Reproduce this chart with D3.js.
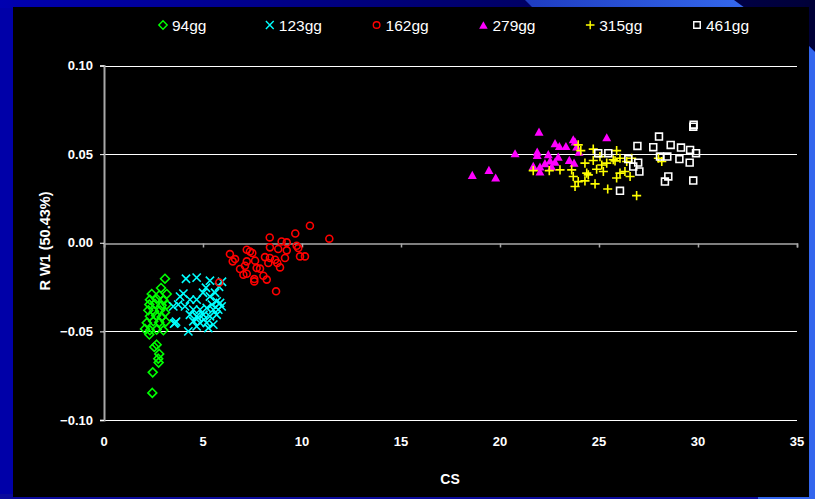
<!DOCTYPE html>
<html>
<head>
<meta charset="utf-8">
<script src="https://cdn.jsdelivr.net/npm/d3@7/dist/d3.min.js"></script>
<style>
  html, body { margin: 0; padding: 0; background: #0000a8; }
  svg { display: block; }
  text { font-family: "Liberation Sans", Arial, sans-serif; fill: #ffffff; }
</style>
</head>
<body>
<svg id="chart" width="815" height="499"></svg>
<script>
// Centroid size (CS) against the first relative warp score (RW1), one series per age group.
const groups = ["94gg", "123gg", "162gg", "279gg", "315gg", "461gg"];

const pts94 = [
  [3.08,-0.0203],[2.88,-0.0255],[2.41,-0.0289],[2.79,-0.0297],[3.17,-0.0289],[2.32,-0.0321],
  [2.66,-0.0317],[3.00,-0.0325],[2.29,-0.0349],[2.58,-0.0345],[2.91,-0.0353],[3.17,-0.0349],
  [2.24,-0.0381],[2.53,-0.0387],[2.83,-0.0381],[3.08,-0.0393],[2.32,-0.0415],[2.63,-0.0411],
  [2.91,-0.0419],[2.16,-0.0452],[2.49,-0.0443],[2.79,-0.0449],[3.12,-0.0445],[2.07,-0.0486],
  [2.32,-0.0494],[2.66,-0.0490],[3.00,-0.0494],[2.29,-0.0518],[2.66,-0.0575],[2.54,-0.0588],
  [2.79,-0.0627],[2.74,-0.0654],[2.76,-0.0676],[2.46,-0.0731],[2.44,-0.0847]
];

const pts123 = [
  [4.14,-0.0203],[4.68,-0.0197],[5.35,-0.0214],[5.15,-0.0254],[5.61,-0.0282],[5.00,-0.0282],
  [4.01,-0.0287],[3.84,-0.0304],[3.75,-0.0349],[3.50,-0.0359],[4.09,-0.0359],[4.68,-0.0321],
  [5.35,-0.0303],[5.69,-0.0331],[5.86,-0.0340],[5.94,-0.0359],[4.51,-0.0377],[4.85,-0.0377],
  [5.19,-0.0368],[5.52,-0.0377],[5.77,-0.0377],[4.34,-0.0406],[4.68,-0.0415],[5.02,-0.0406],
  [5.35,-0.0415],[5.69,-0.0406],[3.59,-0.0452],[3.64,-0.0445],[3.54,-0.0456],[4.51,-0.0443],
  [4.85,-0.0452],[5.19,-0.0452],[5.52,-0.0462],[4.26,-0.0500],[4.68,-0.0472],[5.27,-0.0481],
  [4.75,-0.0423],[5.05,-0.0434],[5.45,-0.0349],[4.34,-0.0321],[5.96,-0.0220],[5.81,-0.0248]
];

const pts162 = [
  [10.40,0.0096],[9.66,0.0052],[11.38,0.0023],[8.37,0.0030],[8.97,0.0007],[9.23,0.0002],
  [9.73,-0.0017],[9.81,-0.0030],[8.38,-0.0026],[8.80,-0.0035],[9.23,-0.0043],[7.21,-0.0039],
  [7.37,-0.0049],[7.49,-0.0058],[6.36,-0.0064],[9.90,-0.0077],[10.15,-0.0077],[8.13,-0.0081],
  [8.38,-0.0086],[8.64,-0.0096],[9.14,-0.0086],[6.62,-0.0092],[6.50,-0.0105],[7.21,-0.0105],
  [7.63,-0.0101],[8.30,-0.0114],[8.75,-0.0114],[7.12,-0.0130],[6.87,-0.0148],[7.71,-0.0143],
  [7.88,-0.0146],[8.89,-0.0139],[7.04,-0.0180],[7.21,-0.0175],[8.05,-0.0186],[8.22,-0.0208],
  [7.59,-0.0205],[7.59,-0.0218],[5.82,-0.0224],[8.69,-0.0274]
];

const pts279 = [
  [21.97,0.0627],[25.39,0.0595],[23.70,0.0584],[22.78,0.0562],[23.33,0.0546],[23.00,0.0546],
  [20.76,0.0505],[21.88,0.0514],[21.88,0.0496],[22.44,0.0500],[22.94,0.0486],[23.50,0.0468],
  [23.74,0.0452],[22.53,0.0464],[22.78,0.0458],[22.27,0.0449],[21.68,0.0434],[22.02,0.0430],
  [22.61,0.0430],[22.02,0.0402],[19.44,0.0411],[18.60,0.0383],[19.78,0.0368],[23.99,0.0514],
  [23.87,0.0543],[23.79,0.0571]
];

const pts315 = [
  [23.95,0.0552],[24.08,0.0520],[24.71,0.0528],[24.71,0.0464],[24.29,0.0449],[25.89,0.0520],
  [25.81,0.0462],[26.06,0.0477],[24.88,0.0415],[25.22,0.0402],[25.14,0.0439],[25.39,0.0449],
  [21.68,0.0407],[22.49,0.0407],[23.03,0.0411],[23.62,0.0411],[23.70,0.0374],[24.46,0.0383],
  [23.95,0.0345],[24.29,0.0349],[23.79,0.0317],[24.80,0.0332],[25.44,0.0303],[25.89,0.0365],
  [26.06,0.0393],[26.57,0.0374],[26.65,0.0477],[26.90,0.0266],[26.40,0.0458],[26.31,0.0402],
  [24.38,0.0393],[25.72,0.0468],[25.05,0.0486],[28.17,0.0458],[28.00,0.0477]
];

const pts461 = [
  [29.76,0.0655],[29.78,0.0666],[28.03,0.0599],[26.94,0.0546],[27.74,0.0539],[28.62,0.0552],
  [29.14,0.0537],[29.60,0.0524],[29.90,0.0505],[28.08,0.0486],[28.45,0.0486],[29.06,0.0472],
  [29.58,0.0452],[26.98,0.0452],[26.73,0.0430],[27.04,0.0402],[28.50,0.0374],[28.33,0.0345],
  [29.76,0.0351],[26.06,0.0293],[25.47,0.0505],[24.96,0.0505],[26.48,0.0472]
];

const xTicks = [0, 5, 10, 15, 20, 25, 30, 35];
const yTicks = [-0.10, -0.05, 0.00, 0.05, 0.10];

const colors = ["#00ff00", "#00ffff", "#ff0000", "#ff00ff", "#ffff00", "#ffffff"];
const seriesPts = [pts94, pts123, pts162, pts279, pts315, pts461];

// filled triangle, slightly taller than equilateral, centred on its bounding box
const tallTriangle = {
  draw(ctx, size) {
    const w = Math.sqrt(size) * 0.75, h = Math.sqrt(size) * 0.68;
    ctx.moveTo(0, -h);
    ctx.lineTo(w, h);
    ctx.lineTo(-w, h);
    ctx.closePath();
  }
};

// marker shapes per series
const shapes = [
  { type: d3.symbolDiamond2, size: 50, fill: false },
  { type: d3.symbolX, size: 46, fill: false },
  { type: d3.symbolCircle, size: 38, fill: false },
  { type: tallTriangle, size: 36, fill: true },
  { type: d3.symbolPlus, size: 29, fill: false },
  { type: d3.symbolSquare2, size: 60, fill: false }
];

const svg = d3.select("#chart");
const W = 815, H = 499;

// ---- slide background ----
const defs = svg.append("defs");
const topGrad = defs.append("linearGradient").attr("id", "topGrad").attr("x1", 0).attr("x2", 1).attr("y1", 0).attr("y2", 0);
topGrad.append("stop").attr("offset", "0%").attr("stop-color", "#0000b0");
topGrad.append("stop").attr("offset", "55%").attr("stop-color", "#000070");
topGrad.append("stop").attr("offset", "100%").attr("stop-color", "#000038");
const bandGrad = defs.append("linearGradient").attr("id", "bandGrad").attr("x1", 0).attr("x2", 1).attr("y1", 0).attr("y2", 0);
bandGrad.append("stop").attr("offset", "0%").attr("stop-color", "#1e3cc0");
bandGrad.append("stop").attr("offset", "100%").attr("stop-color", "#3468ec");

svg.append("rect").attr("x", 0).attr("y", 0).attr("width", W).attr("height", H).attr("fill", "#0000a8");
svg.append("rect").attr("x", 0).attr("y", 0).attr("width", W).attr("height", 8).attr("fill", "url(#topGrad)");
svg.append("path").attr("d", "M525,0 L734,0 L745,8 L533,8 Z").attr("fill", "url(#bandGrad)");
svg.append("path").attr("d", "M805,0 L815,0 L815,52 L805,42 Z").attr("fill", "#000038");
svg.append("path").attr("d", "M805,42 L815,52 L815,499 L805,499 Z").attr("fill", "#3366ee");
svg.append("rect").attr("x", 0).attr("y", 494).attr("width", 760).attr("height", 5).attr("fill", "#0a0a9c");
svg.append("rect").attr("x", 758).attr("y", 494).attr("width", 57).attr("height", 5).attr("fill", "#3366ee");

// black chart panel
svg.append("rect").attr("x", 13).attr("y", 7).attr("width", 796).attr("height", 490).attr("fill", "#000000");

// ---- scales ----
const x = d3.scaleLinear().domain([0, 35]).range([104, 797]);
const y = d3.scaleLinear().domain([-0.10, 0.10]).range([420, 65.5]);

// horizontal gridlines (the zero line is drawn as the x axis)
svg.append("g").selectAll("line")
  .data(yTicks.filter(d => Math.abs(d) > 1e-9))
  .join("line")
  .attr("x1", x(0)).attr("x2", x(35))
  .attr("y1", d => Math.round(y(d)) + 0.5).attr("y2", d => Math.round(y(d)) + 0.5)
  .attr("stroke", "#ffffff").attr("stroke-width", 1);

// x axis line through y = 0, labels placed below the plot
const xAxisG = svg.append("g")
  .attr("transform", `translate(0,${Math.round(y(0)) + 0.5})`)
  .call(d3.axisBottom(x).tickValues(xTicks).tickSize(4).tickFormat(""));
xAxisG.select(".domain").attr("stroke", "#a8a8a8").attr("stroke-width", 1.5);
xAxisG.selectAll(".tick line").attr("stroke", "#a8a8a8").attr("stroke-width", 1.5);

svg.append("g").selectAll("text")
  .data(xTicks)
  .join("text")
  .attr("x", d => x(d)).attr("y", 446)
  .attr("text-anchor", "middle")
  .attr("font-size", "13px").attr("font-weight", "bold")
  .text(d => d);

// y axis
const yAxisG = svg.append("g")
  .attr("transform", `translate(${x(0)},0)`)
  .call(d3.axisLeft(y).tickValues(yTicks).tickSize(4).tickFormat(""));
yAxisG.select(".domain").attr("stroke", "#a8a8a8").attr("stroke-width", 2);
yAxisG.selectAll(".tick line").attr("stroke", "#ffffff").attr("stroke-width", 1);

svg.append("g").selectAll("text")
  .data(yTicks)
  .join("text")
  .attr("x", 93).attr("y", d => y(d) + 4.5)
  .attr("text-anchor", "end")
  .attr("font-size", "13px").attr("font-weight", "bold")
  .text(d => d3.format(".2f")(d));

// axis titles
svg.append("text")
  .attr("x", 450).attr("y", 484)
  .attr("text-anchor", "middle")
  .attr("font-size", "14px").attr("font-weight", "bold")
  .text("CS");

svg.append("text")
  .attr("transform", "translate(50,241) rotate(-90)")
  .attr("text-anchor", "middle")
  .attr("font-size", "14.5px").attr("font-weight", "bold")
  .text("R W1 (50.43%)");

// ---- data points ----
seriesPts.forEach((pts, i) => {
  const s = shapes[i];
  const sym = d3.symbol().type(s.type).size(s.size);
  svg.append("g").selectAll("path")
    .data(pts)
    .join("path")
    .attr("transform", d => `translate(${x(d[0])},${y(d[1])})`)
    .attr("d", sym)
    .attr("fill", s.fill ? colors[i] : "none")
    .attr("stroke", s.fill ? "none" : colors[i])
    .attr("stroke-width", 1.6);
});

// ---- legend ----
const legend = svg.append("g");
groups.forEach((g, i) => {
  const lx = 163 + i * 106.8;
  const s = shapes[i];
  legend.append("path")
    .attr("transform", `translate(${lx},25)`)
    .attr("d", d3.symbol().type(s.type).size(s.size * 0.9)())
    .attr("fill", s.fill ? colors[i] : "none")
    .attr("stroke", s.fill ? "none" : colors[i])
    .attr("stroke-width", 1.4);
  legend.append("text")
    .attr("x", lx + 9).attr("y", 30.5)
    .attr("font-size", "15.5px")
    .attr("fill", "#f0f0f0")
    .text(g);
});
</script>
</body>
</html>
